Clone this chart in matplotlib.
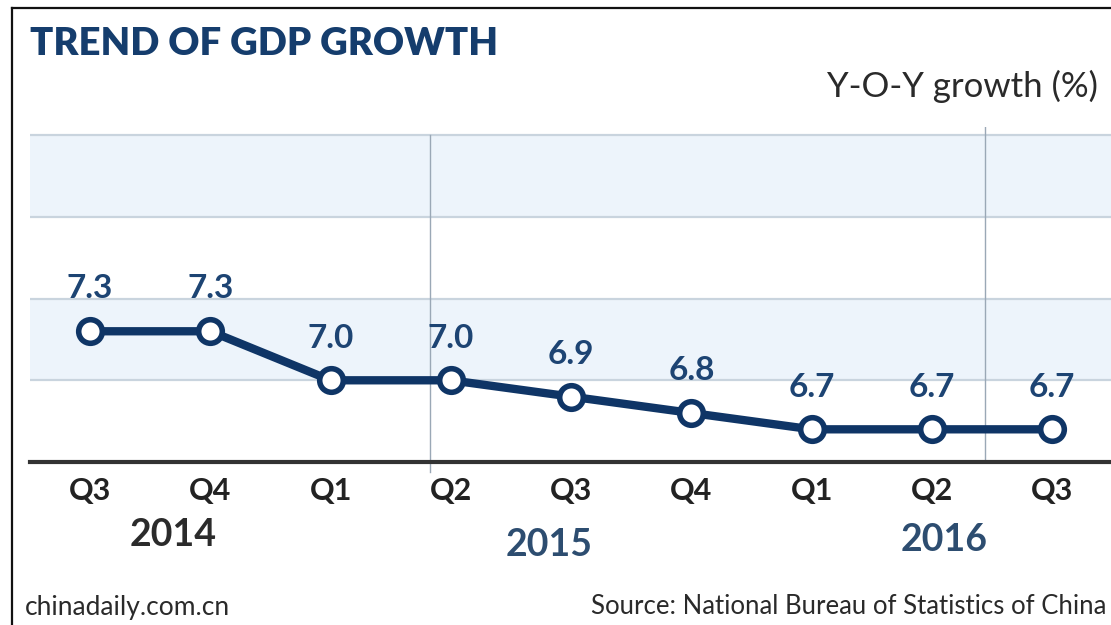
import matplotlib
matplotlib.use("Agg")
import matplotlib.pyplot as plt
from matplotlib.lines import Line2D
import matplotlib.transforms as mtransforms

quarters = ["Q3", "Q4", "Q1", "Q2", "Q3", "Q4", "Q1", "Q2", "Q3"]
growth = [7.3, 7.3, 7.0, 7.0, 6.9, 6.8, 6.7, 6.7, 6.7]
years = ["2014", "2015", "2016"]
year_pos = [0.69, 3.82, 7.1]
year_colors = ["#2b2b2b", "#2d4d70", "#2d4d70"]
dividers = [2.83, 7.44]

W, H = 1111, 625
fig = plt.figure(figsize=(W / 100, H / 100), dpi=100)
fig.patch.set_facecolor("white")

FONT = "Lato"
NAVY = "#0f3566"

def fx(px):
    return px / W

def fy(py):
    return 1 - py / H

ax = fig.add_axes([fx(30), fy(462), 1 - fx(30), fy(127) - fy(462)])
ax.set_facecolor("white")
x = list(range(len(growth)))
ax.set_xlim(-0.5, 8.49)
ax.set_ylim(6.5, 8.55)

for lo, hi in [(7.0, 7.5), (8.0, 8.5)]:
    ax.axhspan(lo, hi, color="#edf4fb", zorder=0, lw=0)
for g in [7.0, 7.5, 8.0, 8.5]:
    ax.axhline(g, color="#c9d4de", lw=1.6, zorder=1)

ax.axvline(dividers[0], ymin=-0.03, ymax=(8.5 - 6.5) / 2.05, color="#9aa8b6", lw=1.0, zorder=1, clip_on=False)
ax.axvline(dividers[1], ymin=0.0, ymax=1.0, color="#9aa8b6", lw=1.0, zorder=1)

ax.plot(x, growth, color=NAVY, lw=6, zorder=3, solid_capstyle="round")
ax.plot(x, growth, linestyle="none", marker="o", markersize=17,
        markerfacecolor="white", markeredgecolor=NAVY, markeredgewidth=4, zorder=4)

for xi, v in zip(x, growth):
    ax.annotate(f"{v:.1f}", (xi, v), xytext=(0, 20), textcoords="offset points",
                ha="center", va="bottom", fontsize=24, fontweight="bold",
                color="#1d4473", family=FONT)

for s in ["top", "right", "left"]:
    ax.spines[s].set_visible(False)
ax.spines["bottom"].set_color("#333333")
ax.spines["bottom"].set_linewidth(3)
ax.set_yticks([])
ax.set_xticks(x)
ax.set_xticklabels(quarters, fontsize=22, color="#222222", family=FONT, fontweight="bold")
ax.tick_params(axis="x", length=0, pad=11)

trans = mtransforms.blended_transform_factory(ax.transData, fig.transFigure)
for yr, xp, c, yp in zip(years, year_pos, year_colors, [535, 545, 540]):
    ax.text(xp, fy(yp), yr, transform=trans, ha="center", va="center",
            fontsize=27, fontweight="bold", color=c, family=FONT)

fig.text(fx(30), fy(44), "TREND OF GDP GROWTH", fontsize=27.5, fontweight="heavy",
         color="#153d6d", family=FONT, ha="left", va="center")
fig.text(fx(1098), fy(86), "Y-O-Y growth (%)", fontsize=25, color="#2a2a2a",
         family=FONT, ha="right", va="center")
fig.text(fx(25), fy(607), "chinadaily.com.cn", fontsize=19, color="#2a2a2a",
         family=FONT, ha="left", va="center")
fig.text(fx(1106), fy(607), "Source: National Bureau of Statistics of China", fontsize=18.5,
         color="#2a2a2a", family=FONT, ha="right", va="center")

fig.add_artist(Line2D([fx(12), fx(12)], [0, fy(8)], color="#111111", lw=1.6))
fig.add_artist(Line2D([fx(12), 1], [fy(8), fy(8)], color="#111111", lw=1.6))

fig.savefig("out.png", dpi=100, facecolor="white")
